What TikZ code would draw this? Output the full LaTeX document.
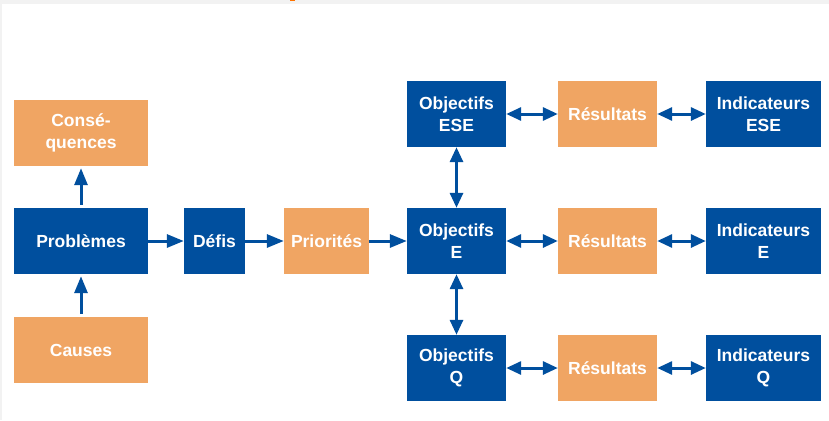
\documentclass[tikz,border=0pt]{standalone}
\usepackage{fontspec}
\setmainfont{Liberation Sans}
\usetikzlibrary{arrows.meta}
\definecolor{bblue}{HTML}{004F9E}
\definecolor{borange}{HTML}{F0A563}
\definecolor{bgray}{HTML}{F2F2F2}
\tikzset{
  box/.style={draw=none, inner sep=0pt, align=center, text=white,
    font=\fontsize{17.5}{22}\selectfont\bfseries, minimum height=66pt},
  bluebox/.style={box, fill=bblue},
  orangebox/.style={box, fill=borange},
  conn/.style={draw=bblue, line width=3pt, -{Triangle[length=17pt,width=13pt]}},
  biconn/.style={draw=bblue, line width=3pt, {Triangle[length=15pt,width=13pt]}-{Triangle[length=15pt,width=13pt]}},
}
\begin{document}
\begin{tikzpicture}[x=1pt,y=-1pt]
\useasboundingbox (0,0) rectangle (829,420);
\fill[bgray] (0,0) rectangle (829,420);
\fill[white] (2,4.5) rectangle (829,420);
\fill[orange!90!red] (290,0) rectangle (295,1.5);
\node[orangebox, minimum width=134pt] (cons) at (81,133) {Consé-\\quences};
\node[bluebox, minimum width=134pt] (prob) at (81,241) {Problèmes};
\node[orangebox, minimum width=134pt] (causes) at (81,350) {Causes};
\node[bluebox, minimum width=61pt] (defis) at (214.5,241) {Défis};
\node[orangebox, minimum width=85pt] (prio) at (326.5,241) {Priorités};
\node[bluebox, minimum width=99pt] (objESE) at (456.5,114) {Objectifs\\ESE};
\node[bluebox, minimum width=99pt] (objE) at (456.5,241) {Objectifs\\E};
\node[bluebox, minimum width=99pt] (objQ) at (456.5,368) {Objectifs\\Q};
\node[orangebox, minimum width=99pt] (resESE) at (607.5,114) {Résultats};
\node[orangebox, minimum width=99pt] (resE) at (607.5,241) {Résultats};
\node[orangebox, minimum width=99pt] (resQ) at (607.5,368) {Résultats};
\node[bluebox, minimum width=115pt] (indESE) at (763.5,114) {Indicateurs\\ESE};
\node[bluebox, minimum width=115pt] (indE) at (763.5,241) {Indicateurs\\E};
\node[bluebox, minimum width=115pt] (indQ) at (763.5,368) {Indicateurs\\Q};
\draw[conn, shorten <=3pt, shorten >=2pt] (prob) -- (cons);
\draw[conn, shorten <=3pt, shorten >=2pt] (causes) -- (prob);
\draw[conn] (prob) -- (defis);
\draw[conn] (defis) -- (prio);
\draw[conn] (prio) -- (objE);
\draw[biconn] (objE) -- (objESE);
\draw[biconn] (objE) -- (objQ);
\draw[biconn] (objESE) -- (resESE);
\draw[biconn] (resESE) -- (indESE);
\draw[biconn] (objE) -- (resE);
\draw[biconn] (resE) -- (indE);
\draw[biconn] (objQ) -- (resQ);
\draw[biconn] (resQ) -- (indQ);
\end{tikzpicture}
\end{document}
